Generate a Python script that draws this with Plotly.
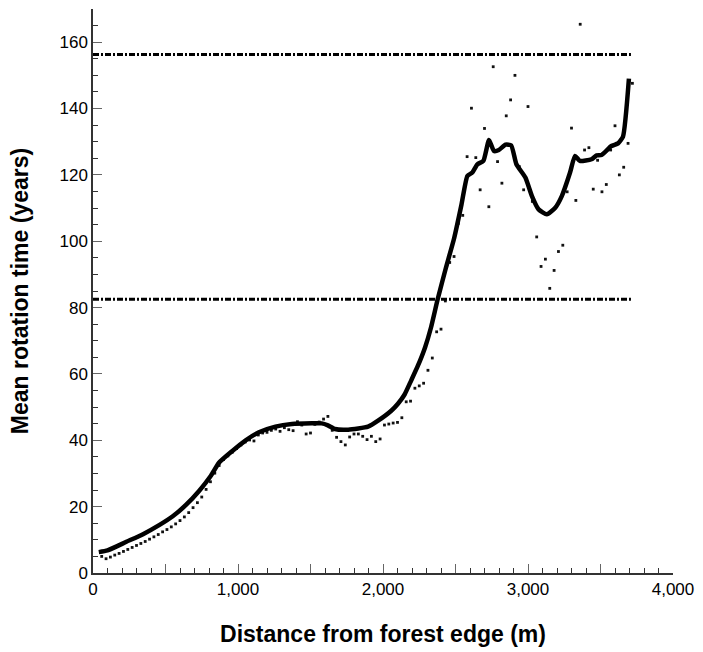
import plotly.graph_objects as go

# Smoothed mean rotation time (thick line)
line_x = [40, 100, 230, 345, 459, 550, 641, 733, 813, 870, 961, 1053, 1144, 1258,
          1372, 1509, 1577, 1620, 1669, 1760, 1897, 1966, 2057, 2103, 2149, 2194,
          2240, 2290, 2331, 2377, 2434, 2491, 2541, 2582, 2616, 2651, 2692, 2731,
          2765, 2799, 2845, 2884, 2920, 2982, 3027, 3073, 3130, 3188, 3233, 3290,
          3324, 3358, 3438, 3473, 3507, 3575, 3621, 3655, 3696]
line_y = [6.3, 6.8, 9.4, 11.7, 14.5, 17.1, 20.5, 24.8, 29.3, 33.3, 36.8, 40.0, 42.4, 44.1,
          44.9, 45.1, 45.1, 44.5, 43.4, 43.2, 44.1, 45.9, 48.9, 51.0, 53.8, 58.0,
          62.4, 68.0, 74.0, 82.5, 92.0, 101.0, 111.0, 119.7, 120.7, 123.2, 124.2, 130.5,
          127.2, 127.5, 129.1, 128.9, 123.2, 119.2, 113.6, 109.6, 108.1, 110.1, 113.6, 120.7,
          125.7, 124.2, 124.7, 125.9, 126.0, 128.7, 129.5, 131.5, 149.0]

# Raw values (dots), every 30 m
dot_x = [60, 90, 120, 150, 180, 210, 240, 270, 300, 330, 360, 390, 420, 450, 480, 510,
         540, 570, 600, 630, 660, 690, 720, 750, 780, 810, 840, 870, 900, 930, 960, 990,
         1020, 1050, 1080, 1110, 1140, 1170, 1200, 1230, 1260, 1290, 1320, 1350, 1380,
         1410, 1440, 1470, 1500, 1530, 1560, 1590, 1620, 1650, 1680, 1710, 1740, 1770,
         1800, 1830, 1860, 1890, 1920, 1950, 1980, 2010, 2040, 2070, 2100, 2130, 2160,
         2190, 2220, 2250, 2280, 2310, 2340, 2370, 2400, 2430, 2460, 2490, 2520, 2550,
         2580, 2610, 2640, 2670, 2700, 2730, 2760, 2790, 2820, 2850, 2880, 2910, 2940,
         2970, 3000, 3030, 3060, 3090, 3120, 3150, 3180, 3210, 3240, 3270, 3300, 3330,
         3360, 3390, 3420, 3450, 3480, 3510, 3540, 3570, 3600, 3630, 3660, 3690, 3720]
dot_y = [5.0, 4.3, 4.8, 5.4, 5.9, 6.5, 7.1, 7.7, 8.3, 8.9, 9.5, 10.2, 10.9, 11.6, 12.4, 13.1,
         13.9, 14.8, 15.8, 16.9, 18.2, 19.7, 21.2, 22.9, 25.2, 27.5, 30.1, 32.4, 34.2, 35.3, 36.4, 37.5,
         38.6, 39.5, 40.1, 39.8, 41.6, 42.2, 42.4, 43.0, 43.4, 42.7, 43.8, 43.2, 42.9,
         45.6, 44.6, 41.9, 42.2, 44.8, 45.5, 46.4, 47.2, 43.0, 40.9, 39.6, 38.6, 41.0,
         41.9, 41.9, 41.2, 40.2, 41.2, 39.6, 40.4, 44.6, 44.9, 45.2, 45.4, 46.8, 51.6,
         51.8, 55.7, 56.4, 57.2, 61.1, 64.8, 72.7, 73.5, 82.0, 93.6, 95.4, 105.4, 107.8,
         125.5, 140.1, 125.2, 115.5, 134.0, 110.4, 152.6, 124.0, 117.5, 137.8, 142.6, 150.0, 122.5,
         115.5, 140.6, 112.0, 101.3, 92.4, 94.6, 85.8, 91.2, 96.9, 98.8, 114.9, 134.1, 112.3,
         165.4, 127.5, 128.2, 115.7, 124.4, 114.9, 117.1, 127.5, 134.8, 120.0, 122.3, 129.5, 147.6]

# Reference levels (dashed lines)
ref_levels = [156.3, 82.5]
ref_x_span = [0, 3710]

x_tickvals = [0, 500, 1000, 1500, 2000, 2500, 3000, 3500, 4000]
x_ticktext = ["0", "", "1,000", "", "2,000", "", "3,000", "", "4,000"]
y_tickvals = [0, 20, 40, 60, 80, 100, 120, 140, 160]

fig = go.Figure()

fig.add_trace(go.Scatter(x=dot_x, y=dot_y, mode="markers",
                         marker=dict(size=2.8, color="#111", symbol="square"),
                         showlegend=False))
for lvl in ref_levels:
    fig.add_trace(go.Scatter(x=ref_x_span, y=[lvl, lvl], mode="lines",
                             line=dict(color="black", width=3, dash="6px,2px,2px,2px"),
                             showlegend=False))
fig.add_trace(go.Scatter(x=line_x, y=line_y, mode="lines",
                         line=dict(color="black", width=4.5, shape="spline", smoothing=0.5),
                         showlegend=False))

font_family = "Liberation Sans, Arial, sans-serif"
fig.update_layout(
    width=703, height=652,
    margin=dict(l=93, r=26, t=9, b=78),
    paper_bgcolor="white", plot_bgcolor="white",
    font=dict(family=font_family, color="black"),
)
fig.update_xaxes(
    range=[0, 4000], showgrid=False, zeroline=False,
    showline=True, linecolor="#333", linewidth=1.5,
    tickmode="array", tickvals=x_tickvals, ticktext=x_ticktext,
    ticks="inside", ticklen=9, tickcolor="#666", tickwidth=1.2,
    minor=dict(dtick=100, ticks="inside", ticklen=5, tickcolor="#333", tickwidth=1.2),
    tickfont=dict(size=17),
    title=dict(text="<b>Distance from forest edge (m)</b>", font=dict(size=23), standoff=28),
)
fig.update_yaxes(
    range=[0, 170], showgrid=False, zeroline=False,
    showline=True, linecolor="#333", linewidth=1.5,
    tickmode="array", tickvals=y_tickvals,
    ticks="inside", ticklen=9, tickcolor="#666", tickwidth=1.2,
    minor=dict(dtick=5, ticks="inside", ticklen=5, tickcolor="#333", tickwidth=1.2),
    tickfont=dict(size=17),
    title=dict(text="<b>Mean rotation time (years)</b>", font=dict(size=23), standoff=24),
)

fig.write_html("out.html")
